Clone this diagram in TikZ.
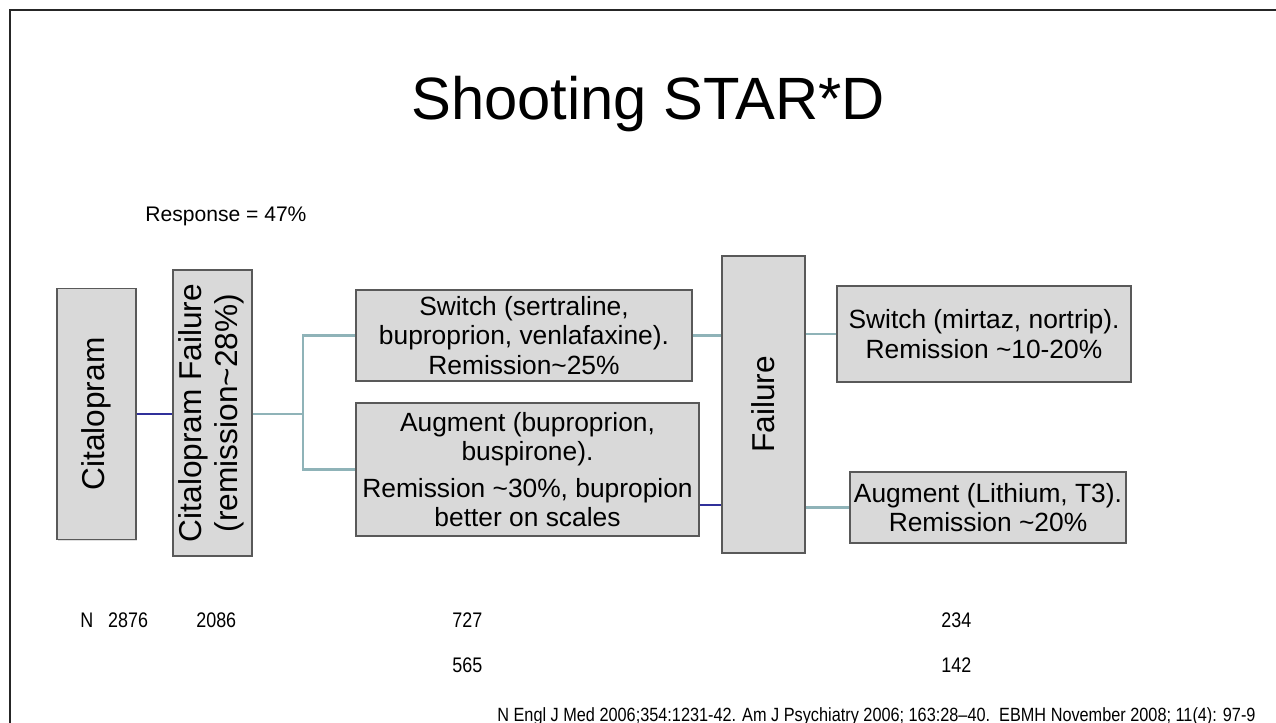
\documentclass[tikz,border=0pt]{standalone}
\usepackage{fontspec}
\setmainfont{Liberation Sans}
\newfontfamily\narrowfont[FakeStretch=0.85]{Liberation Sans}
\usetikzlibrary{shadows}

\definecolor{boxfill}{HTML}{D9D9D9}
\definecolor{boxdraw}{HTML}{595959}
\definecolor{linkteal}{HTML}{8FB3B8}
\definecolor{linkblue}{HTML}{30309A}

\begin{document}
\begin{tikzpicture}[%
    x=0.02cm, y=-0.02cm,        % one unit is one pixel of the slide
    ]
% -------------------------------------------------
% Box and connector styles
\tikzset{
  box/.style={draw=boxdraw, fill=boxfill, line width=1.1pt, inner sep=2pt,
    align=center, font=\fontsize{15}{16.8}\selectfont,
    drop shadow={shadow xshift=0.6pt, shadow yshift=-0.6pt, opacity=0.25}},
  tall/.style={box, font=\fontsize{18}{20}\selectfont},
  soft/.style={draw=linkteal, line width=1.5pt},
  hard/.style={draw=linkblue, line width=1.5pt},
  num/.style={anchor=base west, inner sep=0pt, font=\narrowfont\fontsize{12}{14}\selectfont},
  cite/.style={num, font=\narrowfont\fontsize{10.9}{13}\selectfont}
}
\useasboundingbox (0,0) rectangle (1276,723);
% slide frame
\draw [line width=1.4pt, black!85] (1280,10) -- (10,10) -- (10,730);
% -------------------------------------------------
% Titles
\node [inner sep=0pt, anchor=base, font=\fontsize{34}{40}\selectfont] (title) at (648,120) {Shooting STAR*D};
\node [inner sep=0pt, anchor=base west, font=\fontsize{12}{14}\selectfont] (resp) at (145,222) {Response = 47\%};
% -------------------------------------------------
% Start by placing the boxes
\node [tall, minimum width=1.58cm, minimum height=5.02cm] (cit) at (96.5,414) {\rotatebox{90}{Citalopram}};
\node [tall, minimum width=1.58cm, minimum height=5.72cm] (citf) at (212.5,413)
  {\rotatebox{90}{\begin{tabular}{@{}c@{}}Citalopram Failure\\(remission\textasciitilde28\%)\end{tabular}}};
\node [box, minimum width=6.72cm, minimum height=1.82cm] (sw1) at (524,335.5)
  {Switch (sertraline,\\buproprion, venlafaxine).\\Remission\textasciitilde25\%};
\node [box, minimum width=6.86cm, minimum height=2.66cm] (aug1) at (527.5,469.5)
  {Augment (buproprion,\\buspirone).\\[4pt]Remission \textasciitilde30\%, bupropion\\better on scales};
\node [tall, minimum width=1.66cm, minimum height=5.94cm] (fail) at (763.5,404.5) {\rotatebox{90}{Failure}};
\node [box, minimum width=5.88cm, minimum height=1.92cm] (sw2) at (984,334)
  {Switch (mirtaz, nortrip).\\Remission \textasciitilde10-20\%};
\node [box, minimum width=5.52cm, minimum height=1.42cm] (aug2) at (988,507.5)
  {Augment (Lithium, T3).\\Remission \textasciitilde20\%};
% -------------------------------------------------
% Connectors
\coordinate (split) at (303,414);
\draw [hard] (cit.east) -- (citf.west |- cit.east);
\draw [soft] (citf.east |- split) -- (split);
\draw [soft] (sw1.west) -| (split) |- (aug1.west);
\draw [soft] (sw1.east) -- (fail.west |- sw1.east);
\draw [hard] (aug1.east |- 0,505) -- (fail.west |- 0,505);
\draw [soft] (fail.east |- sw2.west) -- (sw2.west);
\draw [soft] (fail.east |- aug2.west) -- (aug2.west);
% -------------------------------------------------
% Sample sizes and sources
\node [num] (n1) at (80,627) {N\ \ \ 2876};
\node [num] (n2) at (196,627) {2086};
\node [num] (n3) at (452,627) {727};
\node [num] (n4) at (941,627) {234};
\node [num] (n5) at (452,672) {565};
\node [num] (n6) at (941,672) {142};
\node [cite] (src) at (497,721) {N Engl J Med 2006;354:1231-42. Am J Psychiatry 2006; 163:28–40.\ \ EBMH November 2008; 11(4): 97-9};
\end{tikzpicture}
\end{document}
